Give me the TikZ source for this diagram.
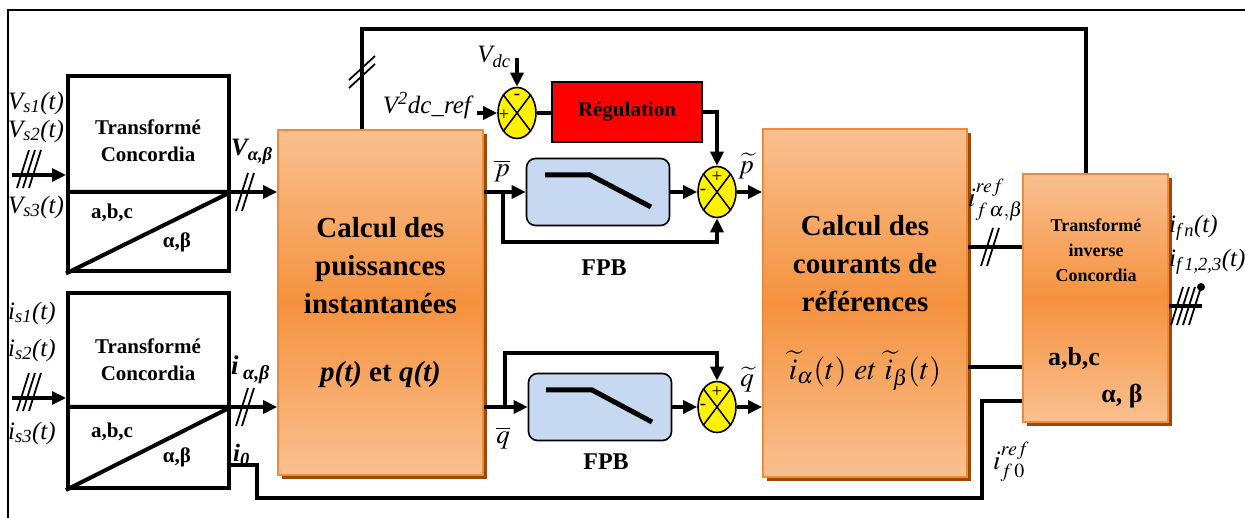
\documentclass[tikz,border=0pt]{standalone}
\usepackage{mathptmx}
\usepackage{fontspec}
\setmainfont{Liberation Serif}
\usetikzlibrary{positioning,arrows.meta,shapes.geometric,shadows}

\definecolor{orlight}{HTML}{F9C090}
\definecolor{ormid}{HTML}{F5923F}
\definecolor{orline}{HTML}{F08A36}
\definecolor{orshadow}{HTML}{9A4A0A}
\definecolor{fpbblue}{HTML}{C6D9F1}

\begin{document}
\begin{tikzpicture}[x=1pt,y=-1pt,
    wire/.style={line width=3.2pt},
    sig/.style={wire,-{Triangle[length=14pt,width=13pt]}},
    concbox/.style={draw,line width=4pt,minimum width=161pt,minimum height=195pt},
    calcbox/.style={draw=orline,line width=1.8pt,top color=orlight,bottom color=orlight,middle color=ormid,
        drop shadow={shadow xshift=4pt,shadow yshift=-4pt,fill=orshadow,opacity=1},
        align=center,font=\fontsize{29}{38}\selectfont\bfseries},
    fpb/.style={draw,line width=1.6pt,fill=fpbblue,rounded corners=9pt,minimum width=143pt,minimum height=67pt},
    sum/.style={ellipse,draw,line width=1.6pt,fill=yellow,minimum width=38pt,minimum height=51pt,inner sep=0pt},
    sgn/.style={font=\fontsize{19}{19}\selectfont,inner sep=0pt},
    lbl/.style={font=\fontsize{25}{27}\selectfont,inner sep=0pt},
    bold/.style={font=\fontsize{21}{27}\selectfont\bfseries,align=center,inner sep=0pt},
    pics/hatch/.style={code={\foreach \k in {1,...,#1}
        \draw[line width=1.8pt] ({(\k-(#1+1)/2)*6-6},13) -- ({(\k-(#1+1)/2)*6+6},-25);}}]

  \useasboundingbox (0,0) rectangle (1245,518);
  \draw[line width=1.4pt] (8,518) -- (8,10) -- (1245,10);

  \node[concbox] (concU) at (148.5,174) {};
  \draw[line width=4pt] ([yshift=-18pt]concU.west) -- ([yshift=-18pt]concU.east)
                        (concU.south west) -- ([yshift=-18pt]concU.east);
  \node[bold] at (148,141) {Transformé\\Concordia};
  \node[bold] at (112,213) {a,b,c};
  \node[bold] at (177,242) {α,β};

  \node[concbox] (concL) at (148.5,390.5) {};
  \draw[line width=4pt] ([yshift=-16.5pt]concL.west) -- ([yshift=-16.5pt]concL.east)
                        (concL.south west) -- ([yshift=-16.5pt]concL.east);
  \node[bold] at (148,360) {Transformé\\Concordia};
  \node[bold] at (112,432) {a,b,c};
  \node[bold] at (177,457) {α,β};

  \node[calcbox,minimum width=205pt,minimum height=345pt] (puis) at (380.5,302.5)
    {Calcul des\\puissances\\instantanées\\[30pt]\textit{p(t)} et \textit{q(t)}};
  \node[calcbox,minimum width=204pt,minimum height=348pt] (cour) at (865,303)
    {Calcul des\\courants de\\références\\[30pt]\fontsize{30}{30}\selectfont\mdseries
     $\widetilde{i}_{\alpha}(t)\ et\ \widetilde{i}_{\beta}(t)$};
  \node[calcbox,minimum width=145pt,minimum height=248pt] (inv) at (1095.5,298) {};
  \node[bold,font=\fontsize{18}{25}\selectfont\bfseries] at (1096,250) {Transformé\\inverse\\Concordia};
  \node[bold,font=\fontsize{26}{28}\selectfont\bfseries] at (1074,358) {a,b,c};
  \node[bold,font=\fontsize{26}{28}\selectfont\bfseries] at (1122,396) {α, β};

  \node[fpb] (fpbP) at (598,192) {};
  \node[fpb] (fpbQ) at (600,407) {};
  \draw[line width=5pt] ([shift={(-53,-17)}]fpbP.center) -- ++(45,0) -- ++(61,32);
  \draw[line width=5pt] ([shift={(-54,-17)}]fpbQ.center) -- ++(46,0) -- ++(60,32);
  \node[bold,font=\fontsize{24}{26}\selectfont\bfseries] at (604,268) {FPB};
  \node[bold,font=\fontsize{24}{26}\selectfont\bfseries] at (606,462) {FPB};

  \node[draw,line width=1.6pt,fill=red,minimum width=150pt,minimum height=60pt,
        font=\fontsize{21}{24}\selectfont\bfseries] (reg) at (627,112) {Régulation};

  \node[sum] (sumV) at (517,113) {};
  \node[sum] (sumP) at (717,192) {};
  \node[sum] (sumQ) at (717,407) {};
  \foreach \s in {sumV,sumP,sumQ}
    \draw[line width=1.5pt] (\s.north west) -- (\s.south east) (\s.north east) -- (\s.south west);
  \node[sgn] at ([yshift=16pt]sumV.center) {-};
  \node[sgn] at ([shift={(-13,2)}]sumV.center) {+};
  \node[sgn] at ([yshift=15pt]sumP.center) {+};
  \node[sgn] at ([xshift=-14pt]sumP.center) {-};
  \node[sgn] at ([yshift=15pt]sumQ.center) {+};
  \node[sgn] at ([xshift=-14pt]sumQ.center) {-};

  \coordinate (inU) at (12,175);
  \coordinate (inL) at (12,398);
  \coordinate (vdc) at (517,58);
  \coordinate (vin) at (477,113);
  \coordinate (bp) at (503,192);
  \coordinate (bq) at (505,407);
  \coordinate (fbL) at (362,29);
  \coordinate (fbR) at (1086,29);
  \coordinate (yref) at (0,247);
  \coordinate (yrb) at (0,367);
  \coordinate (y0) at (0,401);
  \coordinate (i0a) at (257,465);
  \coordinate (i0b) at (982,498);
  \coordinate (yout) at (0,306);
  \coordinate (outE) at (1202,306);

  \draw[sig] (inU) -- (inU -| concU.west);
  \draw[sig] (inL) -- (inL -| concL.west);
  \draw[sig] ([yshift=-18pt]concU.east) -- (bp -| puis.west);
  \draw[sig] ([yshift=-16.5pt]concL.east) -- (bq -| puis.west);
  \draw[sig] (puis.east |- bp) -- (fpbP.west);
  \draw[sig] (bp) -- ++(0,50) -| (sumP.south);
  \draw[sig] (fpbP.east) -- (sumP.west);
  \draw[sig] (sumP.east) -- (sumP.east -| cour.west);
  \draw[sig] (puis.east |- bq) -- (fpbQ.west);
  \draw[sig] (bq) -- ++(0,-54) -| (sumQ.north);
  \draw[sig] (fpbQ.east) -- (sumQ.west);
  \draw[sig] (sumQ.east) -- (sumQ.east -| cour.west);
  \draw[sig] (vdc) -- (sumV.north);
  \draw[sig] (vin) -- (sumV.west);
  \draw[wire] (sumV.east) -- (sumV.east -| reg.west);
  \draw[sig] (reg.east) -| (sumP.north);
  \draw[wire] (inv.north -| fbR) -- (fbR) -- (fbL) -- (puis.north -| fbL);
  \draw[wire] (cour.east |- yref) -- (inv.west |- yref);
  \draw[wire] (cour.east |- yrb) -- (inv.west |- yrb);
  \draw[wire] (concL.east |- i0a) -- (i0a) |- (i0b) |- (inv.west |- y0);
  \draw[wire] (inv.east |- yout) -- (outE);

  \pic at (29,175) {hatch=3};
  \pic at (29,398) {hatch=3};
  \pic at (245,198) {hatch=2};
  \pic at (245,413) {hatch=2};
  \pic at (990,253) {hatch=2};
  \draw[line width=1.8pt] (349,80) -- (375,56) (349,88) -- (375,64);
  \foreach \k in {0,...,3}
    \draw[line width=1.8pt] (1171+6*\k,325) -- (1183+6*\k,287);
  \fill (1201,287) circle (4pt);

  \node[lbl,anchor=west] at (8,103) {\textit{V\textsubscript{s1}(t)}};
  \node[lbl,anchor=west] at (8,131) {\textit{V\textsubscript{s2}(t)}};
  \node[lbl,anchor=west] at (8,207) {\textit{V\textsubscript{s3}(t)}};
  \node[lbl,anchor=west] at (8,313) {\textit{i\textsubscript{s1}(t)}};
  \node[lbl,anchor=west] at (8,350) {\textit{i\textsubscript{s2}(t)}};
  \node[lbl,anchor=west] at (8,433) {\textit{i\textsubscript{s3}(t)}};
  \node[lbl,anchor=west] at (231,152) {\textbf{\textit{V\textsubscript{α,β}}}};
  \node[lbl,anchor=west,font=\fontsize{27}{27}\selectfont] at (231,370) {\textbf{\textit{i\,\textsubscript{α,β}}}};
  \node[lbl,anchor=west] at (233,455) {\textbf{\textit{i\textsubscript{0}}}};
  \node[lbl] (vdcl) at (494,57) {\textit{V\textsubscript{dc}}};
  \node[lbl,anchor=east] (vref) at (474,106) {\textit{V\textsuperscript{2}dc\_ref}};
  \node[lbl,font=\fontsize{27}{27}\selectfont] at (502,171) {$\overline{p}$};
  \node[lbl,font=\fontsize{27}{27}\selectfont] at (746,166) {$\widetilde{p}$};
  \node[lbl,font=\fontsize{27}{27}\selectfont] at (503,438) {$\overline{q}$};
  \node[lbl,font=\fontsize{27}{27}\selectfont] at (747,380) {$\widetilde{q}$};
  \node[lbl,font=\fontsize{27}{27}\selectfont,anchor=west] at (968,200) {$i^{ref}_{f\,\alpha,\beta}$};
  \node[lbl,font=\fontsize{27}{27}\selectfont,anchor=west] at (993,462) {$i^{ref}_{f\,0}$};
  \node[lbl,anchor=west] at (1169,228) {\textit{i\textsubscript{f\,n}(t)}};
  \node[lbl,anchor=west] at (1169,262) {\textit{i\textsubscript{f\,1,2,3}(t)}};
\end{tikzpicture}
\end{document}
